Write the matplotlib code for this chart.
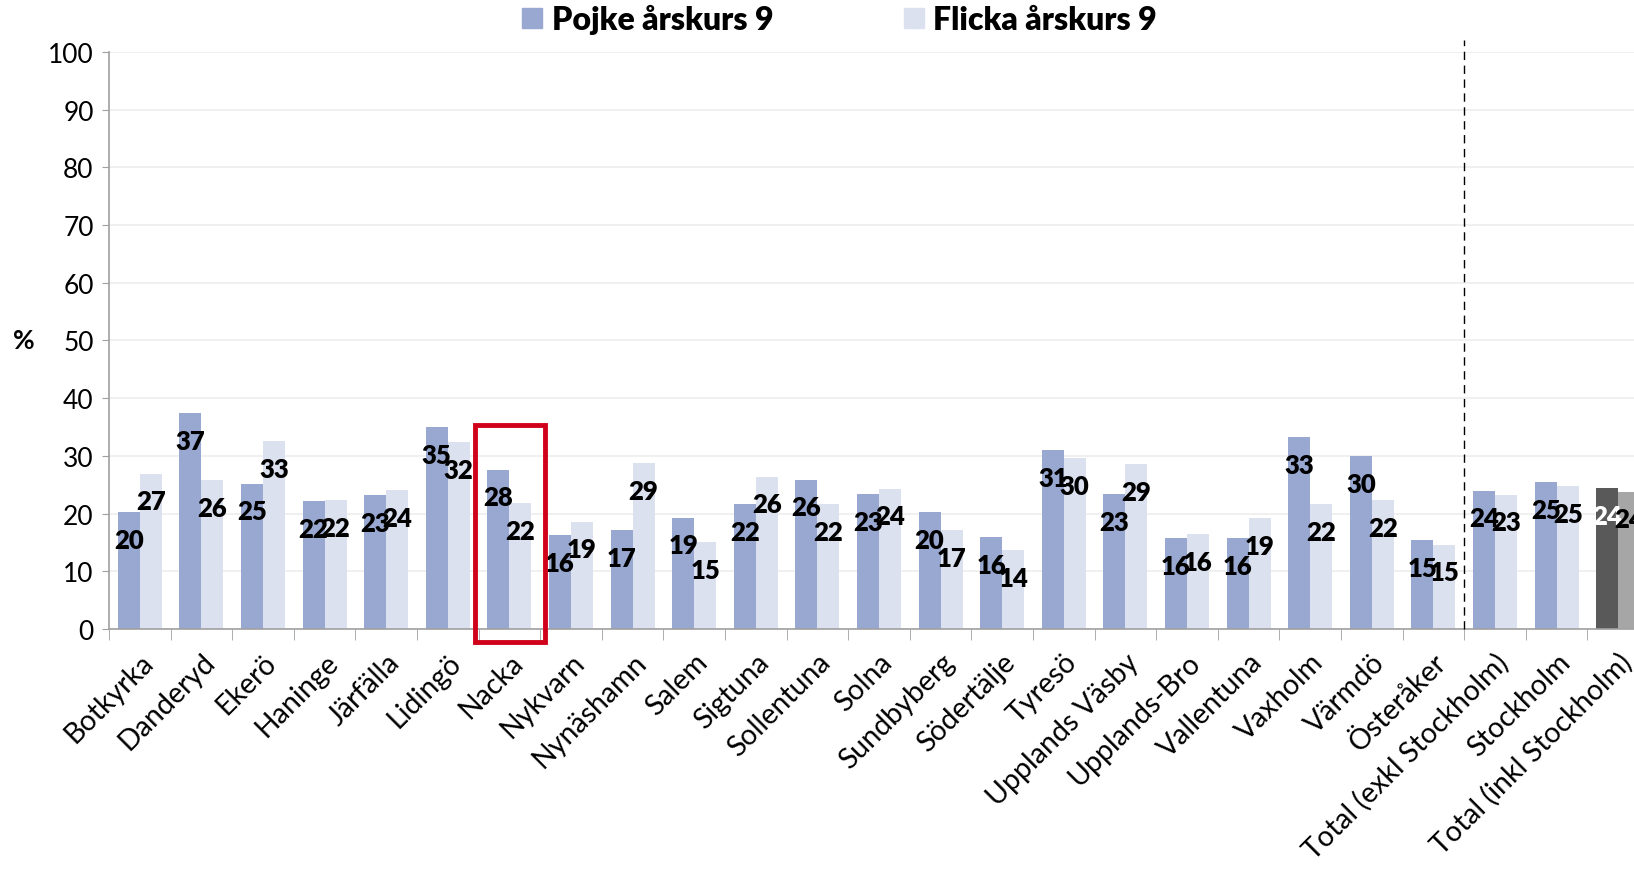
import matplotlib
matplotlib.use("Agg")
import matplotlib.pyplot as plt
from matplotlib.patches import Rectangle
from matplotlib.lines import Line2D
import numpy as np

plt.rcParams['font.family'] = ['Lato', 'DejaVu Sans']

# data
kommuner = ["Botkyrka", "Danderyd", "Ekerö", "Haninge", "Järfälla", "Lidingö", "Nacka",
            "Nykvarn", "Nynäshamn", "Salem", "Sigtuna", "Sollentuna", "Solna", "Sundbyberg",
            "Södertälje", "Tyresö", "Upplands Väsby", "Upplands-Bro", "Vallentuna", "Vaxholm",
            "Värmdö", "Österåker", "Total (exkl Stockholm)", "Stockholm", "Total (inkl Stockholm)"]
pojke = [20.2, 37.4, 25.2, 22.1, 23.2, 35.0, 27.6, 16.3, 17.1, 19.3, 21.6, 25.9, 23.4, 20.2,
         15.9, 31.0, 23.4, 15.7, 15.7, 33.3, 30.0, 15.4, 24.0, 25.4, 24.4]
flicka = [26.9, 25.8, 32.6, 22.3, 24.1, 32.4, 21.8, 18.6, 28.8, 15.1, 26.4, 21.6, 24.3, 17.1,
          13.7, 29.6, 28.6, 16.4, 19.2, 21.6, 22.3, 14.6, 23.3, 24.8, 23.8]
yticks = list(range(0, 101, 10))
markerad = "Nacka"

c_pojke = "#98A8D0"
c_flicka = "#DCE1F0"
c_pojke_tot = "#595959"
c_flicka_tot = "#A6A6A6"

fig = plt.figure(figsize=(16.34, 8.79), dpi=100)
ax = fig.add_axes([0.0667, 0.2833, 0.9425, 0.6564])

x = np.arange(len(kommuner))
w = 0.357
col_p = [c_pojke] * (len(kommuner) - 1) + [c_pojke_tot]
col_f = [c_flicka] * (len(kommuner) - 1) + [c_flicka_tot]
ax.bar(x - w / 2, pojke, w, color=col_p, zorder=2)
ax.bar(x + w / 2, flicka, w, color=col_f, zorder=2)

# data labels
for i in range(len(kommuner)):
    tc = "white" if i == len(kommuner) - 1 else "black"
    ax.text(x[i] - w / 2, pojke[i] - 4.8, f"{round(pojke[i])}", ha="center", va="center",
            fontsize=18.5, fontweight="heavy", color=tc, zorder=3)
    ax.text(x[i] + w / 2, flicka[i] - 4.8, f"{round(flicka[i])}", ha="center", va="center",
            fontsize=18.5, fontweight="heavy", color="black", zorder=3)

ax.set_xlim(-0.5, len(kommuner) - 0.5)
ax.set_ylim(0, 100)
ax.set_yticks(yticks)
ax.tick_params(axis="y", labelsize=19, length=5, color="#A0A0A0", pad=6)
ax.set_xticks(x)
ax.set_xticklabels(kommuner, rotation=45, ha="right", rotation_mode="anchor", fontsize=20.5)
ax.tick_params(axis="x", which="major", length=0, pad=14)
ax.set_xticks(np.arange(-0.5, len(kommuner), 1), minor=True)
ax.tick_params(axis="x", which="minor", length=8, color="#A0A0A0")
ax.grid(axis="y", color="#EEEEEE", linewidth=1.2, zorder=0)
for s in ["top", "right"]:
    ax.spines[s].set_visible(False)
for s in ["left", "bottom"]:
    ax.spines[s].set_color("#A0A0A0")
    ax.spines[s].set_linewidth(1.2)

ax.set_ylabel("%", rotation=0, fontsize=19, fontweight="bold", va="center")
ax.yaxis.set_label_coords(-0.055, 0.5)

# dashed divider before totals
ax.plot([21.5, 21.5], [0, 102], color="black", linestyle=(0, (6, 4)), linewidth=1,
        clip_on=False, zorder=4)

# red frame around Nacka
k = kommuner.index(markerad)
ax.add_patch(Rectangle((k - 0.56, -2.3), 1.14, 37.7, fill=False, edgecolor="#D0021B",
                       linewidth=3.5, clip_on=False, zorder=5))

handles = [Line2D([], [], marker="s", linestyle="", markersize=15, color=c_pojke),
           Line2D([], [], marker="s", linestyle="", markersize=15, color=c_flicka)]
leg = fig.legend(handles, ["Pojke årskurs 9", "Flicka årskurs 9"], loc="center",
                 bbox_to_anchor=(0.513, 0.977), ncol=2, frameon=False,
                 prop={"size": 23, "weight": "heavy"}, columnspacing=4.0,
                 handletextpad=0.2, handlelength=0.8)

fig.savefig("out.png", dpi=100)
